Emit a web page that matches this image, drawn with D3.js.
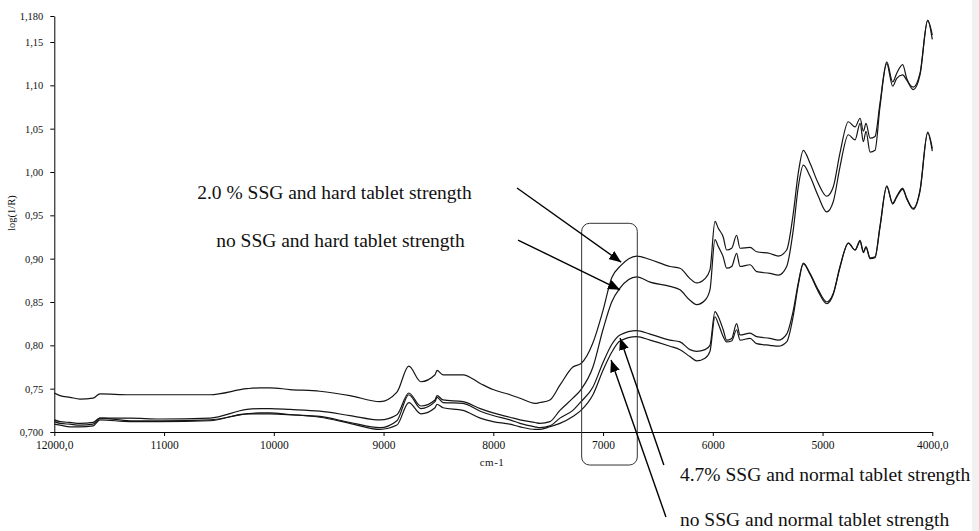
<!DOCTYPE html>
<html>
<head>
<meta charset="utf-8">
<script src="https://cdn.jsdelivr.net/npm/d3@7"></script>
<style>
  body { margin: 0; background: #fff; }
  svg { display: block; }
  text { font-family: "Liberation Serif", "Times New Roman", serif; fill: #111; }
</style>
</head>
<body>
<svg id="chart" width="979" height="531"></svg>
<script>
// NIR spectra, wavenumber (cm-1) vs log(1/R)
const wavenumbers = [
  12000, 11948, 11857, 11766, 11647, 11584, 11310, 11037, 10581, 10244, 10126, 10035,
  9853, 9580, 9306, 9033, 8878, 8770, 8660, 8531, 8513, 8458, 8276, 8119, 8002, 7848,
  7757, 7620, 7575, 7484, 7393, 7275, 7201, 7092, 7001, 6921, 6846, 6693, 6572, 6390,
  6299, 6208, 6147, 6071, 6026, 5980, 5950, 5905, 5874, 5828, 5783, 5752, 5661, 5600,
  5479, 5403, 5327, 5267, 5221, 5175, 5114, 5039, 4962, 4902, 4841, 4765, 4704, 4658,
  4628, 4604, 4567, 4522, 4477, 4415, 4361, 4324, 4270, 4233, 4173, 4112, 4042, 4000
];

// 2.0 % SSG, hard tablet strength
const ssg20Hard = [
  0.745, 0.742, 0.740, 0.738, 0.739, 0.744, 0.743, 0.743, 0.743, 0.750, 0.751, 0.751,
  0.749, 0.747, 0.742, 0.735, 0.746, 0.776, 0.758, 0.766, 0.771, 0.766, 0.766, 0.756, 0.749, 0.743,
  0.739, 0.733, 0.734, 0.737, 0.754, 0.775, 0.779, 0.803, 0.840, 0.878, 0.891, 0.903, 0.899, 0.891,
  0.889, 0.877, 0.872, 0.877, 0.887, 0.943, 0.935, 0.925, 0.910, 0.912, 0.927, 0.912, 0.913, 0.908,
  0.906, 0.903, 0.910, 0.952, 0.999, 1.025, 1.010, 0.987, 0.972, 0.983, 1.022, 1.058, 1.052, 1.062,
  1.047, 1.056, 1.039, 1.041, 1.079, 1.127, 1.104, 1.114, 1.124, 1.108, 1.098, 1.114, 1.175, 1.153
];

// no SSG, hard tablet strength
const noSsgHard = [
  0.714, 0.712, 0.711, 0.710, 0.711, 0.716, 0.716, 0.715, 0.716, 0.726, 0.727, 0.727,
  0.726, 0.724, 0.719, 0.714, 0.720, 0.745, 0.730, 0.737, 0.742, 0.737, 0.735, 0.727, 0.722, 0.717,
  0.714, 0.711, 0.710, 0.712, 0.725, 0.739, 0.749, 0.775, 0.818, 0.850, 0.866, 0.879, 0.873, 0.868,
  0.864, 0.852, 0.847, 0.852, 0.864, 0.922, 0.914, 0.902, 0.889, 0.891, 0.906, 0.891, 0.893, 0.885,
  0.883, 0.881, 0.891, 0.933, 0.983, 1.008, 0.995, 0.972, 0.954, 0.966, 1.006, 1.043, 1.037, 1.056,
  1.035, 1.047, 1.023, 1.025, 1.075, 1.125, 1.099, 1.108, 1.112, 1.106, 1.095, 1.112, 1.175, 1.158
];

// 4.7 % SSG, normal tablet strength
const ssg47Normal = [
  0.712, 0.710, 0.709, 0.708, 0.709, 0.716, 0.713, 0.713, 0.714, 0.721, 0.722, 0.722,
  0.720, 0.718, 0.711, 0.705, 0.713, 0.743, 0.727, 0.735, 0.740, 0.734, 0.733, 0.724, 0.719, 0.714,
  0.710, 0.706, 0.705, 0.707, 0.716, 0.725, 0.735, 0.752, 0.780, 0.801, 0.812, 0.817, 0.813, 0.806,
  0.804, 0.795, 0.793, 0.795, 0.800, 0.839, 0.833, 0.818, 0.806, 0.808, 0.825, 0.812, 0.814, 0.810,
  0.808, 0.806, 0.813, 0.840, 0.872, 0.895, 0.883, 0.864, 0.850, 0.860, 0.891, 0.918, 0.910, 0.921,
  0.908, 0.914, 0.901, 0.902, 0.937, 0.984, 0.964, 0.972, 0.981, 0.970, 0.958, 0.979, 1.046, 1.027
];

// no SSG, normal tablet strength
const noSsgNormal = [
  0.709, 0.708, 0.706, 0.706, 0.707, 0.714, 0.712, 0.712, 0.713, 0.721, 0.721, 0.721,
  0.720, 0.717, 0.710, 0.703, 0.708, 0.734, 0.721, 0.728, 0.732, 0.728, 0.725, 0.716, 0.712, 0.709,
  0.706, 0.703, 0.703, 0.706, 0.710, 0.718, 0.725, 0.743, 0.771, 0.792, 0.805, 0.810, 0.806, 0.799,
  0.795, 0.787, 0.782, 0.785, 0.793, 0.833, 0.825, 0.810, 0.804, 0.805, 0.818, 0.806, 0.808, 0.802,
  0.800, 0.799, 0.804, 0.834, 0.870, 0.894, 0.882, 0.862, 0.848, 0.859, 0.890, 0.918, 0.910, 0.920,
  0.907, 0.913, 0.900, 0.901, 0.936, 0.983, 0.963, 0.971, 0.980, 0.969, 0.957, 0.978, 1.045, 1.024
];

const xTicks = [12000, 11000, 10000, 9000, 8000, 7000, 6000, 5000, 4000];
const xTickLabels = ["12000,0", "11000", "10000", "9000", "8000", "7000", "6000", "5000", "4000,0"];
const yTicks = [0.70, 0.75, 0.80, 0.85, 0.90, 0.95, 1.00, 1.05, 1.10, 1.15, 1.18];
const yTickLabels = ["0,700", "0,75", "0,80", "0,85", "0,90", "0,95", "1,00", "1,05", "1,10", "1,15", "1,180"];

// Callouts: label anchor, arrow tail and arrow tip, all in (cm-1, log(1/R))
const calloutLabels = [
  "2.0 % SSG and hard tablet strength",
  "no SSG and hard tablet strength",
  "4.7% SSG and normal tablet strength",
  "no SSG and normal tablet strength"
];
const calloutText = [[10698, 0.969], [10525, 0.913], [6299, 0.643], [6299, 0.591]];
const calloutTail = [[7784, 0.9815], [7775, 0.9215], [6446, 0.6619], [6427, 0.6020]];
const calloutTip  = [[6835, 0.8960], [6845, 0.8640], [6845, 0.8085], [6927, 0.7831]];

// Highlighted band around the 7000 cm-1 shoulder
const bandRange = [7195, 6688];
const bandValues = [0.6619, 0.9408];

const svg = d3.select("#chart");
const x = d3.scaleLinear().domain([12000, 4000]).range([54.3, 932.3]);
const y = d3.scaleLinear().domain([0.70, 1.18]).range([432, 16]);

// scrollbar-like strip at the right edge
svg.append("rect").attr("x", 972).attr("y", 0).attr("width", 7).attr("height", 531).attr("fill", "#f1f1f1");

const defs = svg.append("defs");
defs.append("marker")
  .attr("id", "arrowhead")
  .attr("markerUnits", "userSpaceOnUse")
  .attr("markerWidth", 13).attr("markerHeight", 10)
  .attr("refX", 12).attr("refY", 5)
  .attr("orient", "auto")
  .append("path")
  .attr("d", "M0,0 L12,5 L0,10 Z")
  .attr("fill", "#000");

// axes
const xAxis = d3.axisBottom(x)
  .tickValues(xTicks)
  .tickFormat((d, i) => xTickLabels[i])
  .tickSize(4).tickSizeOuter(0).tickPadding(5);
const gx = svg.append("g").attr("transform", "translate(0,432)").call(xAxis);
gx.selectAll("text").style("font-size", "11.5px");

const yAxis = d3.axisLeft(y)
  .tickValues(yTicks)
  .tickFormat((d, i) => yTickLabels[i])
  .tickSize(4).tickSizeOuter(0).tickPadding(7);
const gy = svg.append("g").attr("transform", "translate(54.3,0)").call(yAxis);
gy.selectAll("text").style("font-size", "10.5px");

svg.selectAll(".domain, .tick line").attr("stroke", "#000").attr("stroke-width", 1);

svg.append("text")
  .attr("transform", "translate(15,213) rotate(-90)")
  .attr("text-anchor", "middle")
  .style("font-size", "10.5px")
  .text("log(1/R)");

svg.append("text")
  .attr("x", 492).attr("y", 466)
  .attr("text-anchor", "middle")
  .style("font-size", "11px")
  .style("letter-spacing", "0.5px")
  .text("cm-1");

// spectra
const allSeries = [ssg20Hard, noSsgHard, ssg47Normal, noSsgNormal];
const line = d3.line()
  .x(d => x(d[0]))
  .y(d => y(d[1]))
  .curve(d3.curveMonotoneX);

svg.append("g").selectAll("path")
  .data(allSeries)
  .join("path")
  .attr("d", s => line(wavenumbers.map((w, i) => [w, s[i]])))
  .attr("fill", "none")
  .attr("stroke", "#151515")
  .attr("stroke-width", 1.2)
  .attr("stroke-linejoin", "round");

// highlight band
svg.append("rect")
  .attr("x", x(bandRange[0]))
  .attr("y", y(bandValues[1]))
  .attr("width", x(bandRange[1]) - x(bandRange[0]))
  .attr("height", y(bandValues[0]) - y(bandValues[1]))
  .attr("rx", 8).attr("ry", 8)
  .attr("fill", "none")
  .attr("stroke", "#333")
  .attr("stroke-width", 1);

// callout arrows and labels
const callouts = svg.append("g");
callouts.selectAll("line")
  .data(calloutLabels)
  .join("line")
  .attr("x1", (d, i) => x(calloutTail[i][0]))
  .attr("y1", (d, i) => y(calloutTail[i][1]))
  .attr("x2", (d, i) => x(calloutTip[i][0]))
  .attr("y2", (d, i) => y(calloutTip[i][1]))
  .attr("stroke", "#000")
  .attr("stroke-width", 1.4)
  .attr("marker-end", "url(#arrowhead)");

callouts.selectAll("text")
  .data(calloutLabels)
  .join("text")
  .attr("x", (d, i) => x(calloutText[i][0]))
  .attr("y", (d, i) => y(calloutText[i][1]))
  .style("font-size", "19.5px")
  .text(d => d);
</script>
</body>
</html>
